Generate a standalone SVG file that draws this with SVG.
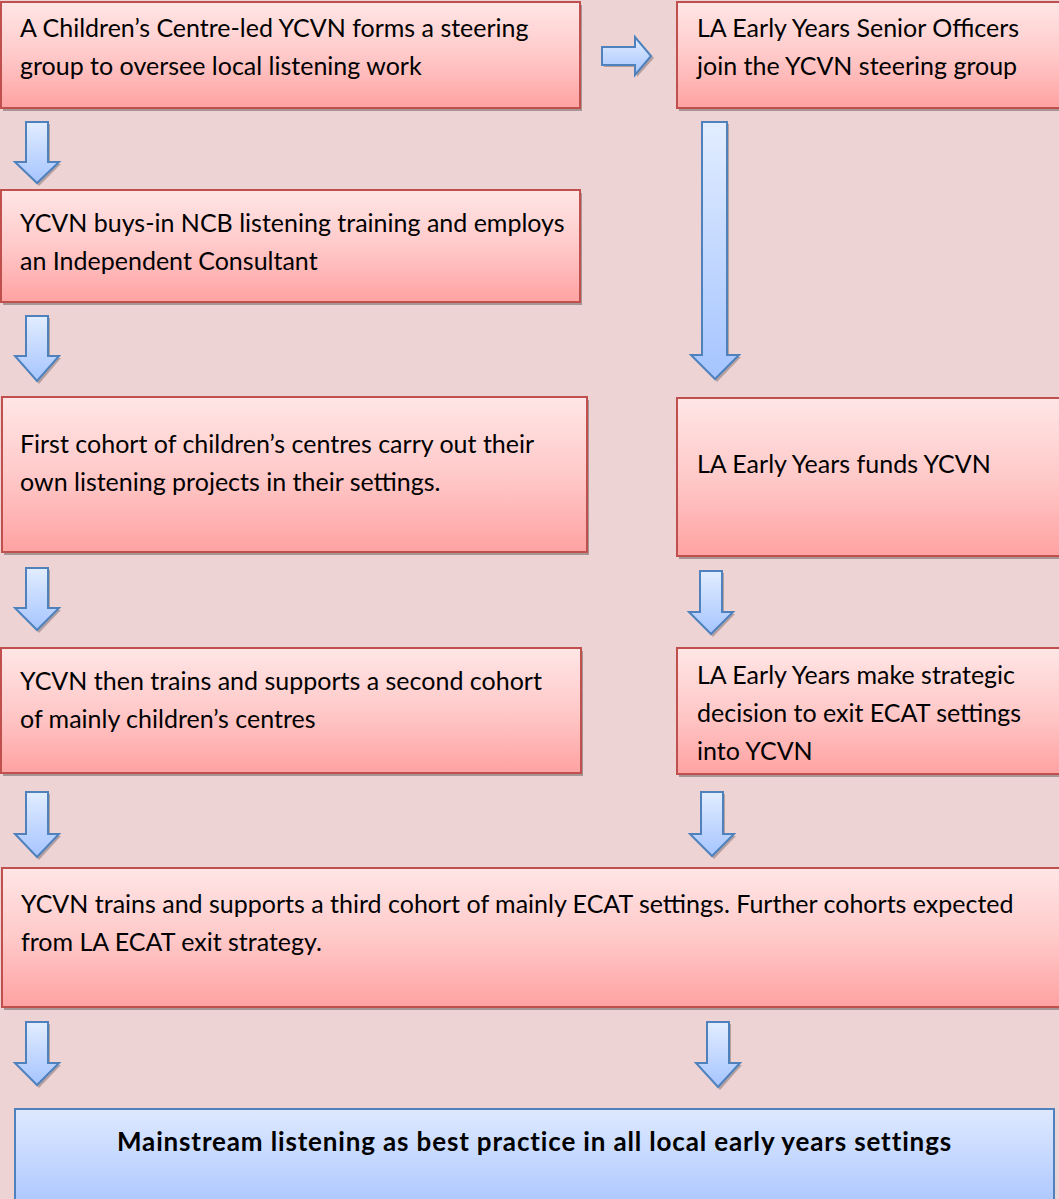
<svg xmlns="http://www.w3.org/2000/svg" width="1059" height="1199" viewBox="0 0 1059 1199">
<style>
.bg{fill:#EDD3D3}
.box{fill:url(#redGrad);stroke:#C0504D;stroke-width:2}
.fin{fill:url(#blueBox);stroke:#4F81BD;stroke-width:2}
.shadow{fill:#8F7F7F;opacity:0.75}
.arr{fill:url(#blueGrad);stroke:#4F81BD;stroke-width:2;stroke-linejoin:miter}
.ash{fill:#8F7F7F;opacity:0.6}
.t{font-family:Lato,"Liberation Sans",sans-serif;font-size:25px;fill:#000}
.tb{font-family:Lato,"Liberation Sans",sans-serif;font-size:26px;font-weight:bold;letter-spacing:0.85px;fill:#000}
</style>
<defs>
<linearGradient id="redGrad" x1="0" y1="0" x2="0" y2="1">
<stop offset="0" stop-color="#FFE6E6"/>
<stop offset="0.5" stop-color="#FFC9C9"/>
<stop offset="1" stop-color="#FFA2A2"/>
</linearGradient>
<linearGradient id="blueGrad" x1="0" y1="0" x2="0" y2="1">
<stop offset="0" stop-color="#E2EDFF"/>
<stop offset="1" stop-color="#A5C4FF"/>
</linearGradient>
<linearGradient id="blueBox" x1="0" y1="0" x2="0" y2="1">
<stop offset="0" stop-color="#DEE9FF"/>
<stop offset="1" stop-color="#A6C3FF"/>
</linearGradient>
</defs>
<rect class="bg" x="0" y="0" width="1059" height="1199"/>

<g id="connectors">
<g id="arrow-right-top">
<path class="ash" d="M604,49 H637 V39 L654,58 L637,77 V67 H604 Z"/>
<path class="arr" d="M602,47 H635 V37 L651,56 L635,75 V65 H602 Z"/>
</g>
<g id="arrow-l1">
<path class="ash" d="M28,124 H50 V164 H61 L39,186 L17,164 H28 Z"/>
<path class="arr" d="M26,122 H48 V162 H59 L37,183 L15,162 H26 Z"/>
</g>
<g id="arrow-l2">
<path class="ash" d="M28,318 H50 V358 H61 L39,384 L17,358 H28 Z"/>
<path class="arr" d="M26,316 H48 V356 H59 L37,381 L15,356 H26 Z"/>
</g>
<g id="arrow-l3">
<path class="ash" d="M28,570 H50 V610 H61 L39,633 L17,610 H28 Z"/>
<path class="arr" d="M26,568 H48 V608 H59 L37,630 L15,608 H26 Z"/>
</g>
<g id="arrow-l4">
<path class="ash" d="M28,794 H50 V836 H61 L39,860 L17,836 H28 Z"/>
<path class="arr" d="M26,792 H48 V834 H59 L37,857 L15,834 H26 Z"/>
</g>
<g id="arrow-l5">
<path class="ash" d="M28,1024 H50 V1065 H61 L39,1088 L17,1065 H28 Z"/>
<path class="arr" d="M26,1022 H48 V1063 H59 L37,1085 L15,1063 H26 Z"/>
</g>
<g id="arrow-r-long">
<path class="ash" d="M704,124 H729 V357 H741 L717,382 L693,357 H704 Z"/>
<path class="arr" d="M702,122 H727 V355 H739 L715,379 L691,355 H702 Z"/>
</g>
<g id="arrow-r3">
<path class="ash" d="M702,573 H724 V614 H735 L713,637 L691,614 H702 Z"/>
<path class="arr" d="M700,571 H722 V612 H733 L711,634 L689,612 H700 Z"/>
</g>
<g id="arrow-r4">
<path class="ash" d="M703,794 H725 V836 H736 L714,859 L692,836 H703 Z"/>
<path class="arr" d="M701,792 H723 V834 H734 L712,856 L690,834 H701 Z"/>
</g>
<g id="arrow-r5">
<path class="ash" d="M709,1024 H731 V1065 H742 L720,1090 L698,1065 H709 Z"/>
<path class="arr" d="M707,1022 H729 V1063 H740 L718,1087 L696,1063 H707 Z"/>
</g>
</g>

<g id="node-steering">
<rect class="shadow" x="3" y="5" width="579" height="106"/>
<rect class="box" x="1" y="2" width="579" height="106"/>
<text class="t" x="20" y="37">A Children’s Centre-led YCVN forms a steering</text>
<text class="t" x="20" y="75">group to oversee local listening work</text>
</g>
<g id="node-la-officers">
<rect class="shadow" x="679" y="5" width="400" height="106"/>
<rect class="box" x="677" y="2" width="400" height="106"/>
<text class="t" x="697" y="37">LA Early Years Senior Officers</text>
<text class="t" x="697" y="75">join the YCVN steering group</text>
</g>
<g id="node-buys-in">
<rect class="shadow" x="3" y="193" width="579" height="112"/>
<rect class="box" x="1" y="190" width="579" height="112"/>
<text class="t" x="20" y="232">YCVN buys-in NCB listening training and employs</text>
<text class="t" x="20" y="270">an Independent Consultant</text>
</g>
<g id="node-first-cohort">
<rect class="shadow" x="4" y="400" width="585" height="155"/>
<rect class="box" x="2" y="397" width="585" height="155"/>
<text class="t" x="20" y="453">First cohort of children’s centres carry out their</text>
<text class="t" x="20" y="491">own listening projects in their settings.</text>
</g>
<g id="node-la-funds">
<rect class="shadow" x="679" y="401" width="400" height="158"/>
<rect class="box" x="677" y="398" width="400" height="158"/>
<text class="t" x="697" y="473">LA Early Years funds YCVN</text>
</g>
<g id="node-second-cohort">
<rect class="shadow" x="3" y="651" width="580" height="125"/>
<rect class="box" x="1" y="648" width="580" height="125"/>
<text class="t" x="20" y="690">YCVN then trains and supports a second cohort</text>
<text class="t" x="20" y="728">of mainly children’s centres</text>
</g>
<g id="node-la-strategic">
<rect class="shadow" x="679" y="651" width="400" height="126"/>
<rect class="box" x="677" y="648" width="400" height="126"/>
<text class="t" x="697" y="684">LA Early Years make strategic</text>
<text class="t" x="697" y="722">decision to exit ECAT settings</text>
<text class="t" x="697" y="760">into YCVN</text>
</g>
<g id="node-third-cohort">
<rect class="shadow" x="4" y="871" width="1080" height="139"/>
<rect class="box" x="2" y="868" width="1080" height="139"/>
<text class="t" x="21" y="913">YCVN trains and supports a third cohort of mainly ECAT settings. Further cohorts expected</text>
<text class="t" x="21" y="951">from LA ECAT exit strategy.</text>
</g>
<g id="node-mainstream">
<rect class="fin" x="15" y="1109" width="1039" height="110"/>
<text class="tb" x="534.5" y="1151" text-anchor="middle">Mainstream listening as best practice in all local early years settings</text>
</g>
</svg>
